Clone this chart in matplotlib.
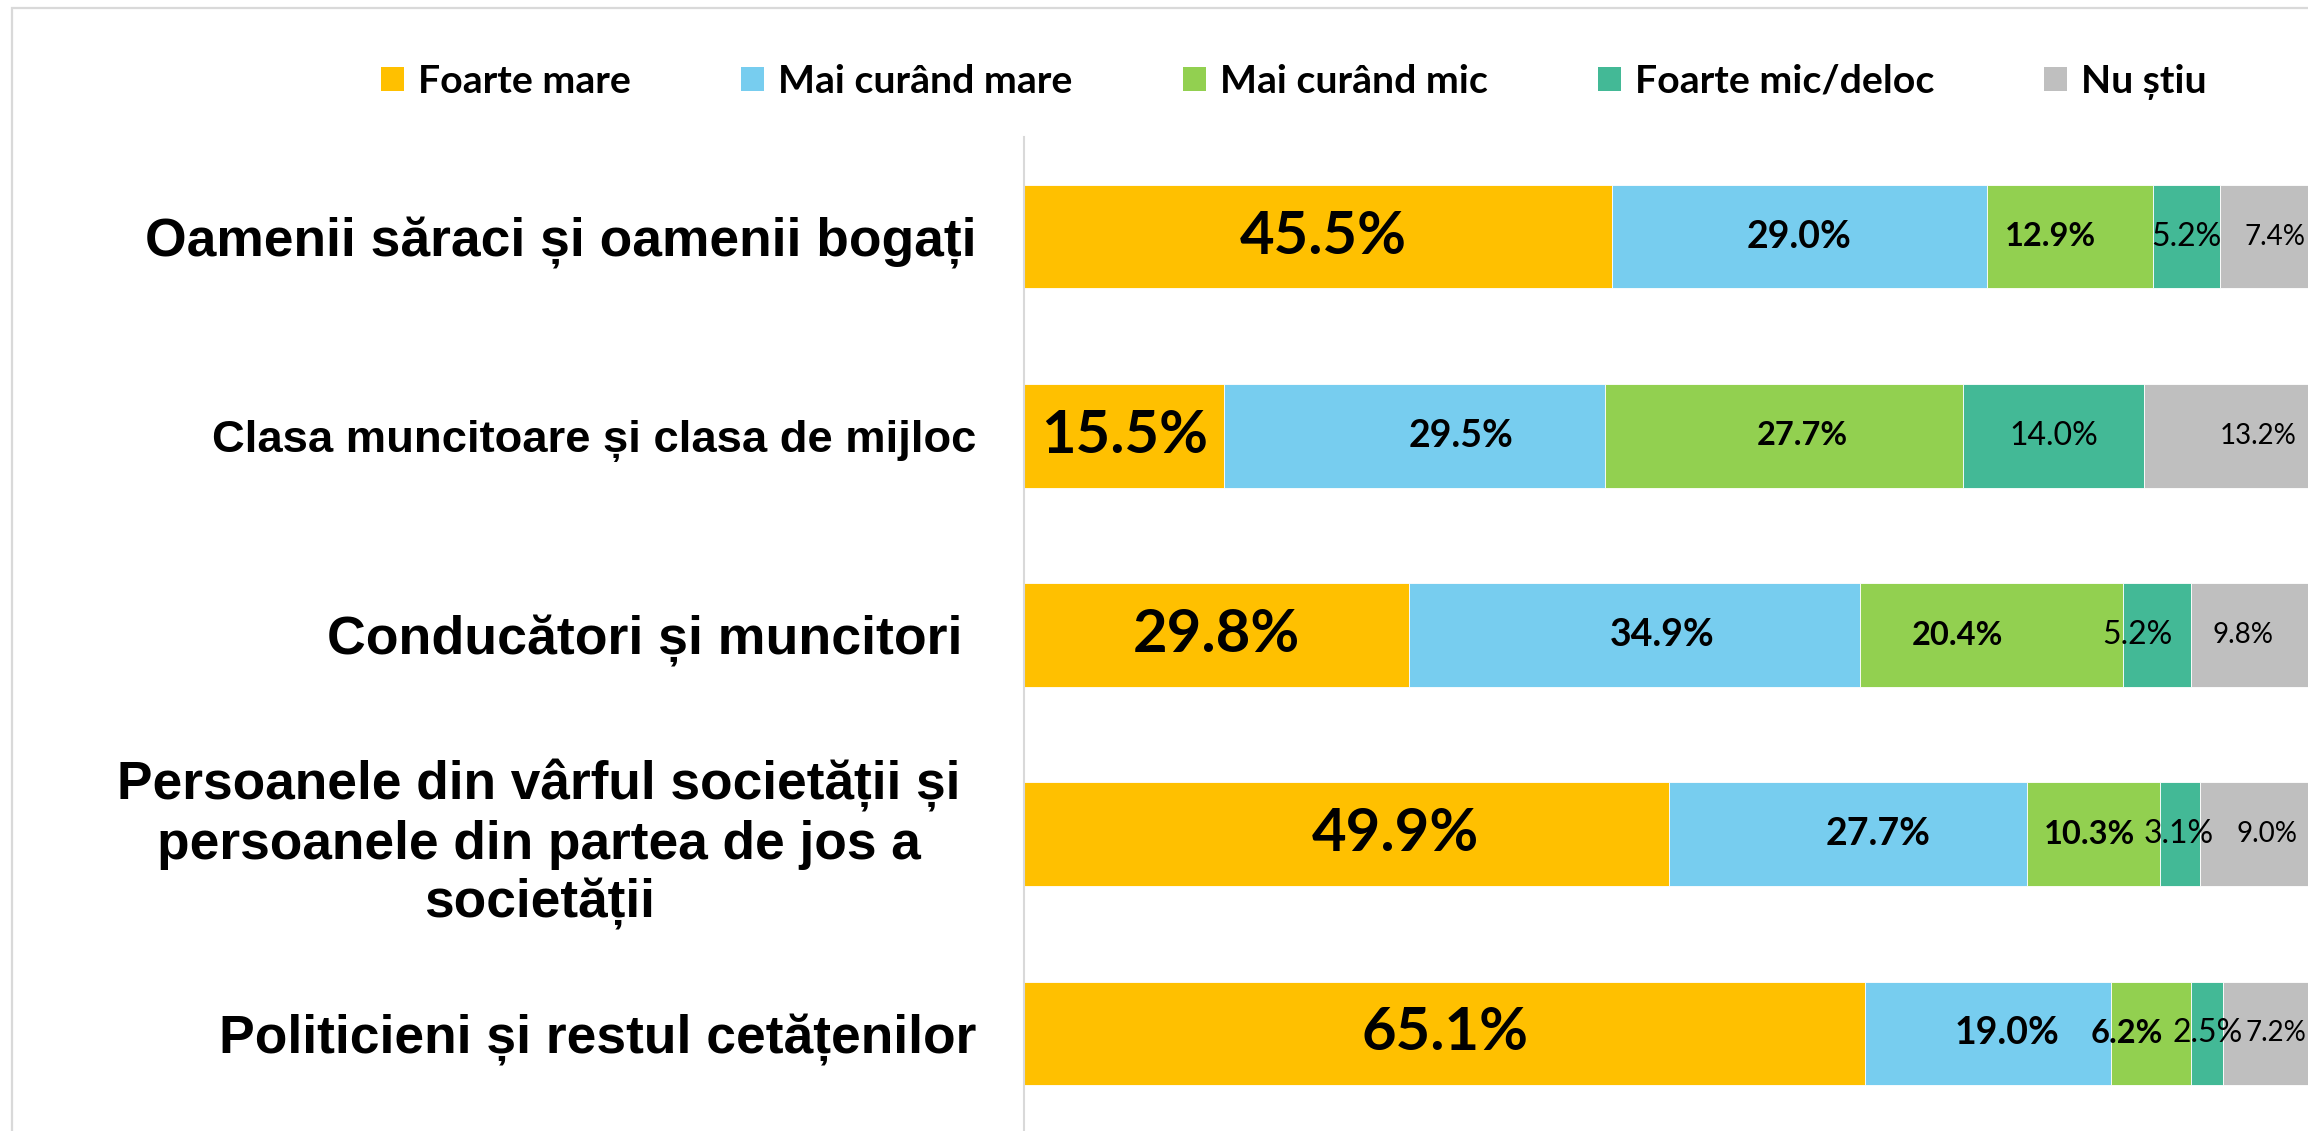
import matplotlib
matplotlib.use("Agg")
import matplotlib.pyplot as plt
from matplotlib.patches import Rectangle, Patch
from matplotlib.transforms import offset_copy, ScaledTranslation
import numpy as np

# data (percent)
categories = [
    "Oamenii săraci și oamenii bogați",
    "Clasa muncitoare și clasa de mijloc",
    "Conducători și muncitori ",
    "Persoanele din vârful societății și\npersoanele din partea de jos a\nsocietății",
    "Politicieni și restul cetățenilor",
]
series_names = ["Foarte mare", "Mai curând mare", "Mai curând mic", "Foarte mic/deloc", "Nu știu"]
foarte_mare = [45.5, 15.5, 29.8, 49.9, 65.1]
mai_curand_mare = [29.0, 29.5, 34.9, 27.7, 19.0]
mai_curand_mic = [12.9, 27.7, 20.4, 10.3, 6.2]
foarte_mic = [5.2, 14.0, 5.2, 3.1, 2.5]
nu_stiu = [7.4, 13.2, 9.8, 9.0, 7.2]

series = [foarte_mare, mai_curand_mare, mai_curand_mic, foarte_mic, nu_stiu]
colors = ["#FFC000", "#77CDEF", "#92D050", "#43B996", "#BFBFBF"]
# label style per series: (size, weight)
label_style = [(43, "bold"), (27, "bold"), (23.5, "bold"), (23, "normal"), (20, "normal")]
# horizontal nudges of the data labels in pixels (series x category), as placed in the original
label_dx = [
    [5, 0, 0, 49, 0],
    [0, 46, 28, 30, 19],
    [-19, 18, -34, -4, -24],
    [0, 0, -20, -1, 1],
    [7, 29, -11, 9, 6],
]
cat_sizes = [38.4, 32.7, 38.6, 38.3, 38.4]

W, H = 2308, 1131
fig = plt.figure(figsize=(W / 100, H / 100), dpi=100)

# outer chart border (light gray, runs off right/bottom)
fig.patches.append(Rectangle((12 / W, -0.1), 1.2, 1 - 8 / H + 0.1, transform=fig.transFigure,
                             fill=False, edgecolor="#D9D9D9", linewidth=1.6))

ax = fig.add_axes([1024 / W, -2 / H, (2316 - 1024) / W, (1133 - 137) / H])

y = np.arange(len(categories))
left = np.zeros(len(categories))
for vals, col, (fs, fw), dxs in zip(series, colors, label_style, label_dx):
    vals = np.array(vals)
    bars = ax.barh(y, vals, left=left, height=0.52, color=col, edgecolor="white", linewidth=0.6)
    for b, v, dx in zip(bars, vals, dxs):
        tr = offset_copy(ax.transData, fig=fig, x=dx, y=0, units="dots")
        ax.text(b.get_x() + b.get_width() / 2, b.get_y() + b.get_height() / 2, f"{v:.1f}%",
                ha="center", va="center", fontsize=fs, fontweight=fw, family="Lato",
                color="black", clip_on=False, transform=tr)
    left += vals

ax.set_xlim(0, 100)
ax.set_ylim(len(categories) - 0.5, -0.5)
ax.set_xticks([])
ax.set_yticks(y)
ax.set_yticklabels(categories)
ax.tick_params(axis="y", length=0, pad=34)
for lbl, fs in zip(ax.get_yticklabels(), cat_sizes):
    lbl.set_fontsize(fs)
    lbl.set_fontweight("bold")
    lbl.set_family("Liberation Sans")
    lbl.set_multialignment("center")
# the wrapped label sits a little left of the others
lab4 = ax.get_yticklabels()[3]
lab4.set_transform(lab4.get_transform() + ScaledTranslation(-0.16, 0, fig.dpi_scale_trans))

for s in ["top", "right", "bottom"]:
    ax.spines[s].set_visible(False)
ax.spines["left"].set_color("#D9D9D9")
ax.spines["left"].set_linewidth(1.5)

handles = [Patch(facecolor=c, edgecolor="none") for c in colors]
fig.legend(handles, series_names, loc="center", bbox_to_anchor=(1294 / W, 1 - 82 / H), ncol=5,
           frameon=False, prop={"family": "Lato", "weight": "bold", "size": 28.3},
           handlelength=0.585, handleheight=0.585, handletextpad=0.36, columnspacing=2.8)

fig.savefig("out.png", dpi=100, facecolor="white")
